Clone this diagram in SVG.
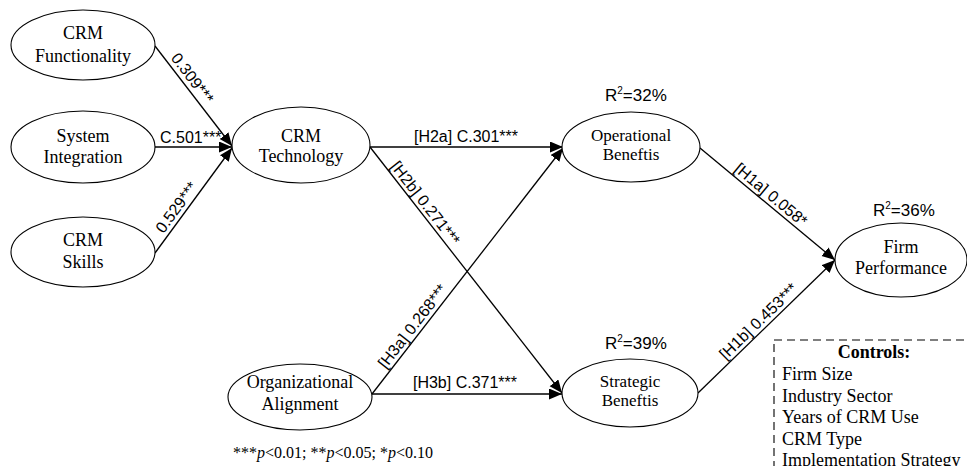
<svg xmlns="http://www.w3.org/2000/svg" width="967" height="466" viewBox="0 0 967 466">
<defs>
<marker id="arr" markerUnits="userSpaceOnUse" markerWidth="14" markerHeight="12" refX="13" refY="5.5" orient="auto">
<path d="M0,0 L13,5.5 L0,11 z" fill="#000"/>
</marker>
<style>
.node ellipse{fill:#fff;stroke:#000;stroke-width:1.1}
.node text{font-family:"Liberation Serif","Times New Roman",serif;font-size:18px;text-anchor:middle;fill:#000}
.node text.tight{font-size:17px}
.conn line{stroke:#000;stroke-width:1.3;marker-end:url(#arr)}
.lbl{font-family:"Liberation Sans",Arial,sans-serif;font-size:16px;fill:#000}
.r2{font-family:"Liberation Sans",Arial,sans-serif;font-size:17px;fill:#000}
.ser{font-family:"Liberation Serif","Times New Roman",serif;fill:#000}
</style>
</defs>
<rect width="967" height="466" fill="#fff"/>
<g id="connectors" class="conn">
<line x1="155" y1="46" x2="232" y2="146"/>
<line x1="155" y1="147" x2="232" y2="147"/>
<line x1="155" y1="253" x2="232" y2="148"/>
<line x1="370" y1="147" x2="563" y2="147"/>
<line x1="370" y1="147" x2="562" y2="393"/>
<line x1="372" y1="394" x2="563" y2="148"/>
<line x1="372" y1="394" x2="562" y2="394"/>
<line x1="700" y1="148" x2="835" y2="260"/>
<line x1="698" y1="393" x2="835" y2="260"/>
</g>
<g id="edge-labels" class="lbl">
<text transform="translate(185,84) rotate(52.4)" text-anchor="middle" y="-4">0.309***</text>
<text x="160" y="143">C.501***</text>
<text transform="translate(184,213) rotate(-53.7)" text-anchor="middle" y="-4">0.529***</text>
<text x="466" y="142" text-anchor="middle">[H2a] C.301***</text>
<text transform="translate(418,209) rotate(52)" text-anchor="middle" y="-4">[H2b] 0.271***</text>
<text transform="translate(420,332) rotate(-52.2)" text-anchor="middle" y="-4">[H3a] 0.268***</text>
<text x="465" y="388" text-anchor="middle">[H3b] C.371***</text>
<text transform="translate(765,202) rotate(39.7)" text-anchor="middle" y="-4">[H1a] 0.058*</text>
<text transform="translate(765,328) rotate(-44.2)" text-anchor="middle" y="-4">[H1b] 0.453***</text>
</g>
<g id="n-func" class="node">
<ellipse cx="83" cy="45" rx="72" ry="35"/>
<text x="83" y="39">CRM</text>
<text x="83" y="62">Functionality</text>
</g>
<g id="n-sys" class="node">
<ellipse cx="83" cy="147" rx="72" ry="36"/>
<text x="83" y="142">System</text>
<text x="83" y="163">Integration</text>
</g>
<g id="n-skills" class="node">
<ellipse cx="83" cy="252" rx="72" ry="35"/>
<text x="83" y="246">CRM</text>
<text x="83" y="268">Skills</text>
</g>
<g id="n-tech" class="node">
<ellipse cx="301" cy="145" rx="69" ry="38"/>
<text x="301" y="142">CRM</text>
<text x="301" y="162">Technology</text>
</g>
<g id="n-op" class="node">
<ellipse cx="631" cy="147" rx="69" ry="35"/>
<text class="tight" x="631" y="141">Operational</text>
<text class="tight" x="631" y="160">Beneftis</text>
</g>
<g id="n-strat" class="node">
<ellipse cx="630" cy="393" rx="68" ry="34"/>
<text class="tight" x="630" y="387">Strategic</text>
<text class="tight" x="630" y="406">Beneftis</text>
</g>
<g id="n-org" class="node">
<ellipse cx="300" cy="397" rx="72" ry="33"/>
<text x="300" y="388">Organizational</text>
<text x="300" y="410">Alignment</text>
</g>
<g id="n-firm" class="node">
<ellipse cx="901" cy="260" rx="66" ry="37"/>
<text x="901" y="253">Firm</text>
<text x="901" y="274">Performance</text>
</g>
<g id="r2-labels" class="r2">
<text x="605" y="101">R<tspan font-size="10" dy="-7">2</tspan><tspan dy="7">=32%</tspan></text>
<text x="873" y="216">R<tspan font-size="10" dy="-7">2</tspan><tspan dy="7">=36%</tspan></text>
<text x="605" y="349">R<tspan font-size="10" dy="-7">2</tspan><tspan dy="7">=39%</tspan></text>
</g>
<g id="footnote">
<text class="ser" x="233" y="458" font-size="16">***<tspan font-style="italic">p</tspan>&lt;0.01; **<tspan font-style="italic">p</tspan>&lt;0.05; *<tspan font-style="italic">p</tspan>&lt;0.10</text>
</g>
<g id="controls">
<rect x="774" y="340" width="220" height="150" fill="none" stroke="#000" stroke-width="1.1" stroke-dasharray="8,5"/>
<text class="ser" x="874" y="358" font-size="18" font-weight="bold" text-anchor="middle">Controls:</text>
<text class="ser" font-size="18">
<tspan x="782" y="380">Firm Size</tspan>
<tspan x="782" y="402">Industry Sector</tspan>
<tspan x="782" y="423">Years of CRM Use</tspan>
<tspan x="782" y="445">CRM Type</tspan>
<tspan x="782" y="466">Implementation Strategy</tspan>
</text>
</g>
</svg>
